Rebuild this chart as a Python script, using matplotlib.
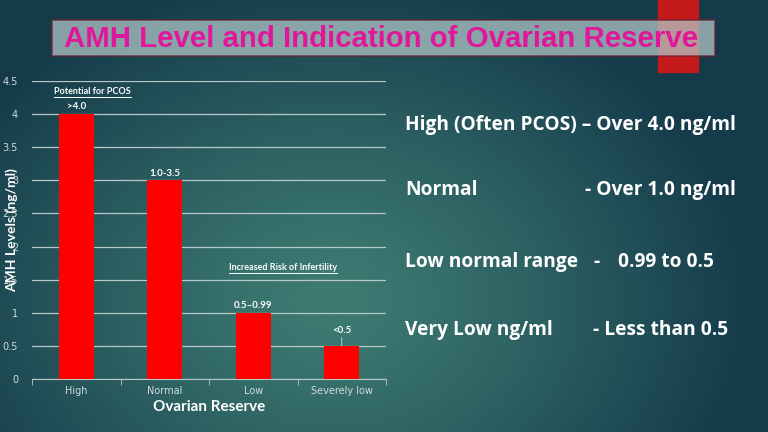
import numpy as np
import matplotlib
matplotlib.use("Agg")
from matplotlib import pyplot as plt
from matplotlib.patches import Rectangle
from matplotlib.lines import Line2D

# data
categories = ['High', 'Normal', 'Low', 'Severely low']
amh_values = [4.0, 3.0, 1.0, 0.5]
bar_labels = ['>4.0', '1.0-3.5', '0.5\u20130.99', '<0.5']
yticks = [0, 0.5, 1, 1.5, 2, 2.5, 3, 3.5, 4, 4.5]
ytick_labels = ['0', '0.5', '1', '1.5', '2', '2.5', '3', '3.5', '4', '4.5']
side_left = ['High (Often PCOS) \u2013 Over 4.0 ng/ml', 'Normal', 'Low normal range', 'Very Low ng/ml']
side_dash = ['', '- Over 1.0 ng/ml', '-', '- Less than 0.5']
side_value = ['', '', '0.99 to 0.5', '']

W, H = 768, 432
fig = plt.figure(figsize=(W / 100, H / 100), dpi=100)

# background gradient
bg = fig.add_axes([0, 0, 1, 1])
yy, xx = np.mgrid[0:H, 0:W]
d = np.sqrt(((xx - 330) / 420.0) ** 2 + ((yy - 300) / 330.0) ** 2)
t = np.clip(d, 0, 1) ** 1.2
light = np.array([0x3e, 0x7c, 0x73]) / 255.0
dark = np.array([0x15, 0x3b, 0x4b]) / 255.0
img = light[None, None, :] * (1 - t[..., None]) + dark[None, None, :] * t[..., None]
bg.imshow(img, extent=[0, W, H, 0], aspect='auto')
bg.set_xlim(0, W)
bg.set_ylim(H, 0)
bg.axis('off')

# red bar at top right and title box
bg.add_patch(Rectangle((658, 0), 40, 72, color='#c41a1c', zorder=2))
bg.add_patch(Rectangle((52, 20), 663, 36, facecolor='#b4caca', alpha=0.72,
                       edgecolor='#6a2030', linewidth=1.2, zorder=3))
bg.text(381, 39, 'AMH Level and Indication of Ovarian Reserve', color='#e0179a',
        fontsize=21.2, fontweight='bold', family='Liberation Sans',
        ha='center', va='center', zorder=4)

# side text
rows_y = [125, 190, 262, 330]
dash_x = [0, 585, 593, 593]
sfont = dict(color='white', fontsize=13.8, fontweight='bold', family='Open Sans',
             va='center', zorder=4)
for i in range(len(side_left)):
    bg.text(405, rows_y[i], side_left[i], **sfont)
    if side_dash[i]:
        bg.text(dash_x[i], rows_y[i], side_dash[i], **sfont)
    if side_value[i]:
        bg.text(618, rows_y[i], side_value[i], **sfont)

# chart
ax = fig.add_axes([32 / W, 1 - 379 / H, 354 / W, 298 / H])
ax.set_facecolor('none')
x = np.arange(len(categories))
ax.bar(x, amh_values, width=0.4, color='#ff0000', zorder=3)
ax.set_xlim(-0.5, len(categories) - 0.5)
ax.set_ylim(0, 4.5)
ax.set_yticks(yticks)
ax.set_yticklabels(ytick_labels)
ax.yaxis.grid(True, color='#b8c8c6', linewidth=0.9, zorder=0)
ax.set_xticks(x)
ax.set_xticklabels(categories)
ax.set_xticks(np.arange(len(categories) + 1) - 0.5, minor=True)
ax.tick_params(axis='x', which='major', length=0, colors='#d0dcda', labelsize=7, pad=5)
ax.tick_params(axis='x', which='minor', length=4, color='#b8c8c6', direction='out')
ax.tick_params(axis='y', length=0, colors='#d0dcda', labelsize=7, pad=10)
for s in ['top', 'right', 'left']:
    ax.spines[s].set_visible(False)
ax.spines['bottom'].set_color('#b8c8c6')
ax.set_xlabel('Ovarian Reserve', color='white', fontsize=11, fontweight='bold',
              family='Lato', labelpad=3)
ax.set_ylabel('AMH Levels (ng/ml)', color='white', fontsize=10, fontweight='bold',
              family='Lato', labelpad=-11)

for i in range(len(categories)):
    if bar_labels[i] == '<0.5':
        ax.annotate(bar_labels[i], (x[i], amh_values[i]), xytext=(0, 8),
                    textcoords='offset points', ha='center', va='bottom',
                    color='white', fontsize=7, fontweight='bold', family='Lato', zorder=4,
                    arrowprops=dict(arrowstyle='-', color='#d0dcda', lw=0.6,
                                    shrinkA=0, shrinkB=0))
    else:
        ax.annotate(bar_labels[i], (x[i], amh_values[i]), xytext=(0, 2),
                    textcoords='offset points', ha='center', va='bottom',
                    color='white', fontsize=7, fontweight='bold', family='Lato', zorder=4)

notes = []
notes.append(ax.text(-0.25, 4.34, 'Potential for PCOS', color='white', fontsize=6.5,
                     fontweight='bold', family='Lato', ha='left', va='center'))
notes.append(ax.text(1.73, 1.68, 'Increased Risk of Infertility', color='white', fontsize=6.5,
                     fontweight='bold', family='Lato', ha='left', va='center'))

# underline the notes
fig.canvas.draw()
r = fig.canvas.get_renderer()
for n in notes:
    bb = n.get_window_extent(r).transformed(fig.transFigure.inverted())
    fig.add_artist(Line2D([bb.x0, bb.x1], [bb.y0 - 0.002, bb.y0 - 0.002],
                          transform=fig.transFigure, color='white', linewidth=0.7))

fig.savefig('out.png', dpi=100)
